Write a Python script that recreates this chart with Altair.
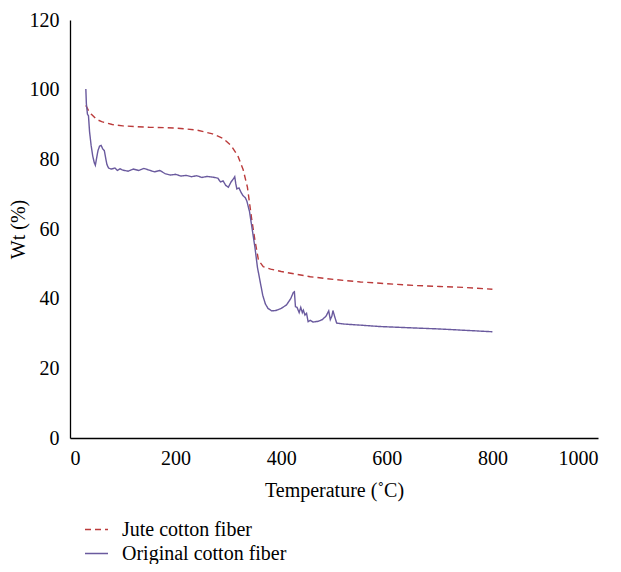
import altair as alt
import pandas as pd

# Jute cotton fiber (dashed red)
jute_t = [30, 35, 40, 50, 60, 80, 100, 150, 200, 240, 270, 290, 305, 318, 328, 336, 344, 350, 357, 366, 380, 400, 455, 500, 550, 600, 650, 700, 750, 800]
jute_w = [95.5, 94, 93, 91.5, 90.8, 90, 89.6, 89.2, 89, 88.4, 87.3, 86, 84, 81, 77, 72, 63, 57, 51, 49.2, 48.5, 47.8, 46.3, 45.5, 44.8, 44.3, 43.8, 43.5, 43.2, 42.7]

# Original cotton fiber (solid purple)
orig_t = [30, 31, 33, 35, 37, 40, 43, 46, 48, 50, 53, 56, 59, 62, 65, 68, 70, 73, 78, 85, 90, 95, 100, 110, 120, 130, 140, 150, 160, 170, 180, 190, 200, 210, 220, 230, 240, 250, 260, 270, 280, 285, 290, 295, 300, 305, 310, 312, 314, 316, 320, 324, 328, 332, 335, 340, 345, 350, 355, 360, 365, 370, 375, 382, 390, 400, 410, 418, 423, 425, 427, 430, 434, 437, 440, 442, 445, 448, 451, 455, 460, 470, 478, 485, 490, 493, 496, 498, 501, 505, 520, 550, 587, 650, 700, 750, 800]
orig_w = [100.2, 96, 93, 92.5, 88, 84, 81, 79, 78.3, 80, 82.5, 83.8, 84, 83, 82.5, 80, 78.5, 77.5, 77.2, 77.5, 76.8, 77.3, 76.9, 76.6, 77.2, 76.8, 77.4, 76.9, 76.4, 76.8, 75.9, 75.5, 75.7, 75.2, 75.4, 75, 75.3, 74.8, 75.1, 74.9, 74.6, 73.5, 73.8, 72.5, 72, 73.5, 74.5, 75, 73, 71.5, 71.8, 70.5, 69.5, 69, 68, 65, 60, 55, 49, 45, 41, 38.5, 37.2, 36.5, 36.6, 37.2, 38.2, 40, 41.8, 42, 37.7, 37.5, 36, 37.5, 36, 36.7, 35.3, 35.8, 33.4, 33.8, 33.3, 33.5, 34, 35, 36.5, 34, 35, 36.6, 35, 33, 32.7, 32.4, 32, 31.6, 31.3, 30.9, 30.5]

series_names = ["Jute cotton fiber", "Original cotton fiber"]
series_colors = ["#bb3b3b", "#6a5a9e"]
x_ticks = [0, 200, 400, 600, 800, 1000]
y_ticks = [0, 20, 40, 60, 80, 100, 120]

df = pd.concat([
    pd.DataFrame({"T": jute_t, "W": jute_w, "series": series_names[0]}),
    pd.DataFrame({"T": orig_t, "W": orig_w, "series": series_names[1]}),
])

FONT = "'Liberation Serif', 'DejaVu Serif', serif"
FS = 20

legend_kw = dict(title=None, orient="none", legendX=14, legendY=497,
                 symbolType="stroke", symbolSize=529, symbolStrokeWidth=1.4,
                 labelOffset=13, rowPadding=1, padding=0, labelLimit=400)

chart = alt.Chart(df).mark_line(strokeWidth=1.4).encode(
    x=alt.X("T:Q", scale=alt.Scale(domain=[0, 1000], nice=False),
            axis=alt.Axis(values=x_ticks, format="d", title="Temperature (˚C)", ticks=False, grid=False,
                          labelPadding=10, titlePadding=12)),
    y=alt.Y("W:Q", scale=alt.Scale(domain=[0, 120], nice=False),
            axis=alt.Axis(values=y_ticks, format="d", title="Wt (%)", ticks=False, grid=False,
                          labelPadding=11, titlePadding=1)),
    color=alt.Color("series:N", scale=alt.Scale(domain=series_names, range=series_colors),
                    legend=alt.Legend(**legend_kw)),
    strokeDash=alt.StrokeDash("series:N", scale=alt.Scale(domain=series_names, range=[[6, 4], [1, 0]]),
                              legend=alt.Legend(**legend_kw)),
).properties(
    width=528, height=418,
    autosize=alt.AutoSizeParams(type="none"),
    padding={"left": 62, "top": 12, "right": 15, "bottom": 126},
).configure_view(stroke=None).configure_axis(
    labelFont=FONT, labelFontSize=FS, labelColor="black",
    titleFont=FONT, titleFontSize=FS, titleColor="black", titleFontWeight="normal",
    domainColor="black", domainWidth=1.3,
).configure_legend(
    labelFont=FONT, labelFontSize=FS, labelColor="black",
)

chart.save("out.html", embed_options={"renderer": "svg", "actions": False})
